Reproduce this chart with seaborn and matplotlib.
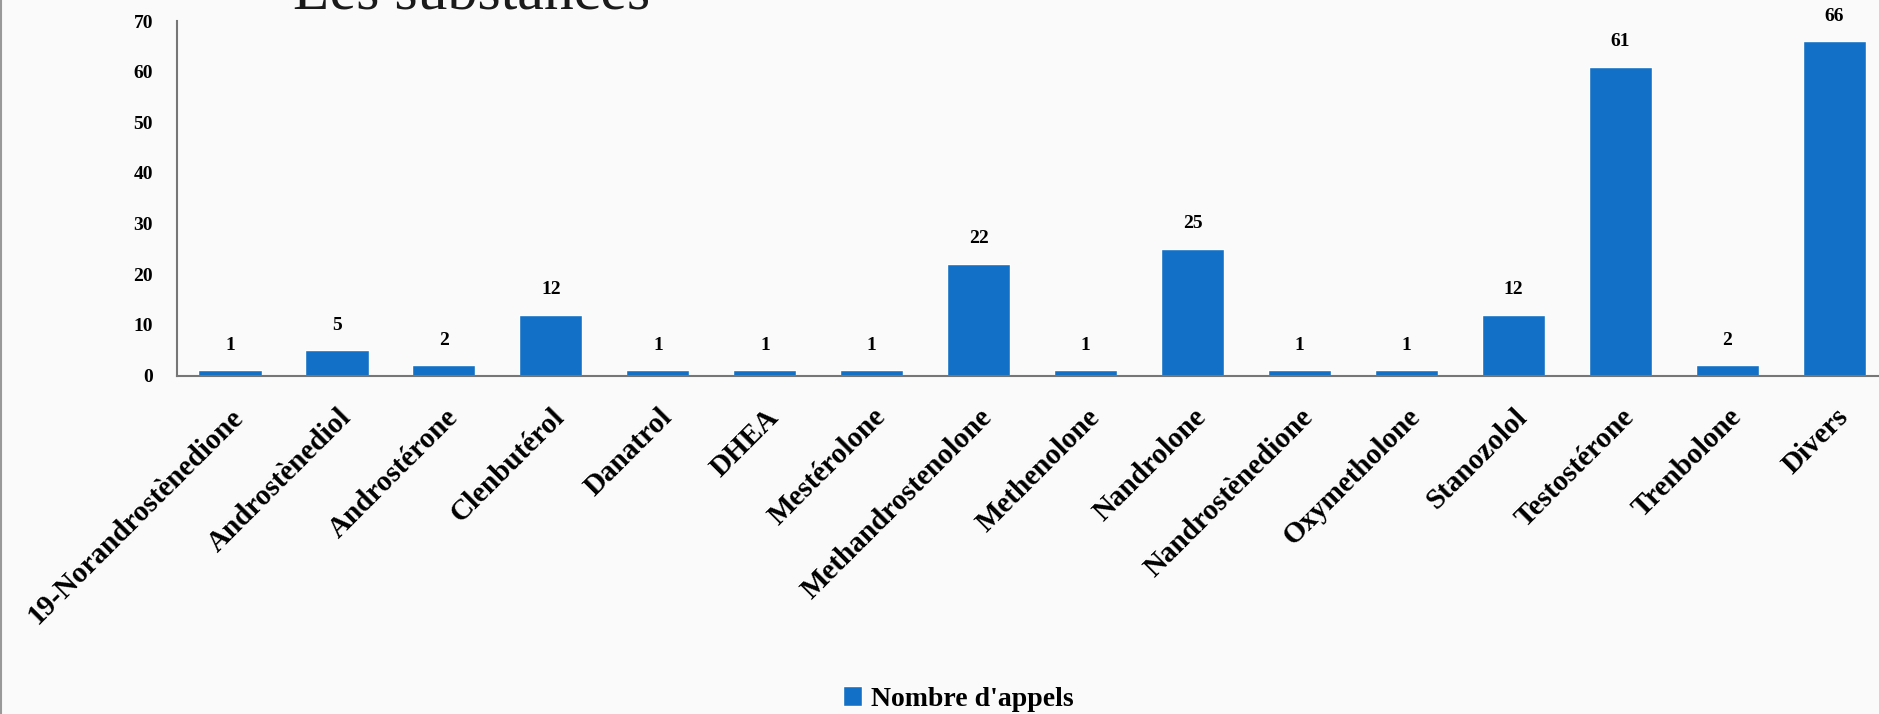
import matplotlib
matplotlib.use("Agg")
import matplotlib.pyplot as plt
import seaborn as sns
import pandas as pd

categories = ["19-Norandrostènedione", "Androstènediol", "Androstérone", "Clenbutérol",
              "Danatrol", "DHEA", "Mestérolone", "Methandrostenolone", "Methenolone",
              "Nandrolone", "Nandrostènedione", "Oxymetholone", "Stanozolol",
              "Testostérone", "Trenbolone", "Divers"]
values = [1, 5, 2, 12, 1, 1, 1, 22, 1, 25, 1, 1, 12, 61, 2, 66]
series_name = "Nombre d'appels"
y_ticks = [0, 10, 20, 30, 40, 50, 60, 70]
title = "Les substances"

df = pd.DataFrame({"substance": categories, "n": values, "serie": series_name})

sns.set_theme(style="white")
plt.rcParams['font.family'] = ['Liberation Serif', 'DejaVu Serif']
plt.rcParams['text.color'] = 'black'
plt.rcParams['xtick.color'] = 'black'
plt.rcParams['ytick.color'] = 'black'

BAR = "#1270C6"
BG = "#FAFAFA"

fig = plt.figure(figsize=(18.79, 7.14), dpi=100, facecolor=BG)
ax = fig.add_axes([176.5 / 1879, 1 - 375.5 / 714, (1888 - 176.5) / 1879, (375.5 - 21) / 714])
ax.set_facecolor(BG)

sns.barplot(data=df, x="substance", y="n", hue="serie", palette=[BAR],
            width=0.59, ax=ax, legend=True, saturation=1)

ax.set_ylim(0, 70)
ax.set_xlim(-0.5, len(categories) - 0.5)
ax.set_yticks(y_ticks)
ax.set_yticklabels([str(t) for t in y_ticks], fontsize=14, fontweight="bold", color="black")
ax.tick_params(axis="y", length=0, pad=17)
ax.tick_params(axis="x", length=0, pad=20)
ax.set_xticks(range(len(categories)))
ax.set_xticklabels(categories, rotation=45, ha="right", va="top",
                   rotation_mode="anchor", fontsize=21, fontweight="bold", color="black")
ax.set_xlabel("")
ax.set_ylabel("")

for s in ["top", "right"]:
    ax.spines[s].set_visible(False)
for s in ["left", "bottom"]:
    ax.spines[s].set_color("#767676")
    ax.spines[s].set_linewidth(1.5)

for c in ax.containers:
    ax.bar_label(c, labels=[str(v) for v in values], padding=12,
                 fontsize=14, fontweight="bold", color="black")

leg = ax.legend(loc="center", bbox_to_anchor=(958 / 1879, 15 / 714),
                bbox_transform=fig.transFigure, frameon=False,
                handlelength=0.7, handleheight=0.7, handletextpad=0.3,
                prop={"family": "Liberation Serif", "weight": "bold", "size": 20})
for t in leg.get_texts():
    t.set_color("black")

fig.text(293 / 1879, 1 - 10 / 714, title, fontsize=43, ha="left",
         va="baseline", color="#1a1a1a", family="Liberation Serif")

fig.add_artist(plt.Line2D([1 / 1879, 1 / 1879], [0, 1], transform=fig.transFigure,
                          color="#999999", linewidth=1.5))

fig.savefig("out.png", dpi=100, facecolor=BG)
